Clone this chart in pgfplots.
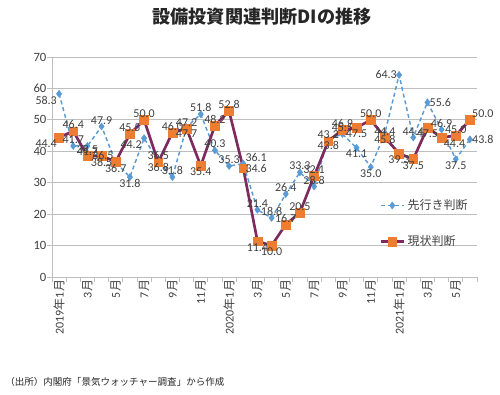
\documentclass[border=0pt]{standalone}
\usepackage{fontspec}
\setmainfont{Carlito}
\newfontfamily\jp{Noto Sans CJK JP}
\usepackage{pgfplots}
\usepackage{pgfplotstable}
\pgfplotsset{compat=1.18}
\definecolor{bluel}{RGB}{91,155,213}
\definecolor{orng}{RGB}{237,125,49}
\definecolor{purp}{RGB}{126,42,94}
\definecolor{gridc}{RGB}{190,190,190}
\definecolor{txt}{RGB}{64,64,64}

% g: label position 1=above 2=below 3=left 4=right 5=below-left 6=above-left 7=above-right 8=below-right
\pgfplotstableread{
x y g
0 58.3 5
1 41.7 1
2 41.7 2
3 47.9 1
4 36.5 6
5 31.8 2
6 44.2 5
7 36.8 2
8 31.8 1
9 47.7 2
10 51.8 1
11 40.3 1
12 35.3 1
13 36.1 7
14 21.4 1
15 18.8 1
16 26.4 1
17 33.3 1
18 28.8 1
19 43.8 2
20 45.5 1
21 41.1 2
22 35.0 2
23 45.8 2
24 64.3 3
25 44.4 1
26 55.6 4
27 46.9 1
28 37.5 2
29 43.8 4
}\bluetab

\pgfplotstableread{
x y g
0 44.4 5
1 46.4 1
2 38.5 1
3 38.5 2
4 36.7 2
5 45.5 1
6 50.0 1
7 36.5 1
8 46.0 1
9 47.2 1
10 35.4 2
11 48.2 1
12 52.8 1
13 34.6 4
14 11.4 2
15 10.0 2
16 16.7 1
17 20.5 1
18 32.1 1
19 43.2 1
20 46.9 1
21 47.5 2
22 50.0 1
23 44.4 1
24 39.3 2
25 37.5 2
26 47.5 2
27 44.4 8
28 45.0 1
29 50.0 7
}\orngtab

\begin{document}
\begin{tikzpicture}
\useasboundingbox (-39pt,-87.75pt) rectangle (336pt,207.75pt);
\begin{axis}[
  scale only axis, width=318.75pt, height=165pt,
  at={(0pt,0pt)}, anchor=south west,
  xmin=-0.5, xmax=29.5, ymin=0, ymax=70,
  /pgf/number format/assume math mode=true,
  axis x line*=bottom, axis y line*=left,
  axis line style={gridc, -},
  ytick={0,10,...,70},
  minor ytick={0,10,...,70},
  ymajorgrids, grid style={gridc, line width=0.7pt},
  xtick={0,2,...,28},
  xticklabels={2019{\jp 年}1{\jp 月},3{\jp 月},5{\jp 月},7{\jp 月},9{\jp 月},11{\jp 月},2020{\jp 年}1{\jp 月},3{\jp 月},5{\jp 月},7{\jp 月},9{\jp 月},11{\jp 月},2021{\jp 年}1{\jp 月},3{\jp 月},5{\jp 月}},
  minor xtick={-0.5,0.5,...,29.5},
  tick align=outside, major tick length=0pt, minor tick length=3.5pt,
  tick style={gridc, line width=0.6pt},
  xticklabel style={rotate=90, anchor=east, font=\fontsize{9}{10}\selectfont, text=txt, inner sep=2pt},
  yticklabel style={font=\fontsize{9.5}{11}\selectfont, text=txt, inner sep=4pt},
  legend style={at={(0.77,0.243)}, anchor=west, draw=none, fill=none,
    font=\jp\fontsize{9}{11}\selectfont, text=txt, row sep=14pt, inner sep=0pt},
  legend cell align=left,
  lbl/.style={draw=none, mark=none, forget plot,
    nodes near coords={\pgfmathprintnumber[fixed,fixed zerofill,precision=1]{\pgfplotspointmeta}},
    every node near coord/.append style={font=\fontsize{9}{10}\selectfont, text=txt, inner sep=1.5pt}},
  g1/.style={every node near coord/.append style={anchor=south}},
  g2/.style={every node near coord/.append style={anchor=north}},
  g3/.style={every node near coord/.append style={anchor=east}},
  g4/.style={every node near coord/.append style={anchor=west}},
  g5/.style={every node near coord/.append style={anchor=north east}},
  g6/.style={every node near coord/.append style={anchor=south east}},
  g7/.style={every node near coord/.append style={anchor=south west}},
  g8/.style={every node near coord/.append style={anchor=north west}},
]
\addplot[bluel, line width=1.1pt, dash pattern=on 3pt off 2.2pt,
  mark=diamond*, mark size=2.6pt, mark options={solid, fill=bluel, line width=0.4pt}]
  table[x=x,y=y]{\bluetab};
\addlegendentry{先行き判断}
\addplot[purp, line width=2pt,
  mark=square*, mark size=3.3pt, mark options={fill=orng, draw=orng, line width=0.4pt}]
  table[x=x,y=y]{\orngtab};
\addlegendentry{現状判断}
\pgfplotsinvokeforeach{1,2,3,4,5,6,7}{
  \addplot[lbl, g#1, restrict expr to domain={\thisrow{g}}{#1:#1}] table[x=x,y=y]{\bluetab};
}
\pgfplotsinvokeforeach{1,2,4,5,7,8}{
  \addplot[lbl, g#1, restrict expr to domain={\thisrow{g}}{#1:#1}] table[x=x,y=y]{\orngtab};
}
\end{axis}
\node[font=\jp\bfseries\fontsize{13.6}{16}\selectfont, text=black!85] at (157.5pt,195pt) {設備投資関連判断DIの推移};
\node[anchor=west, inner sep=0pt, font=\jp\fontsize{7.15}{9}\selectfont, text=black!85] at (-35.25pt,-78.75pt) {（出所）内閣府「景気ウォッチャー調査」から作成};
\end{tikzpicture}
\end{document}
